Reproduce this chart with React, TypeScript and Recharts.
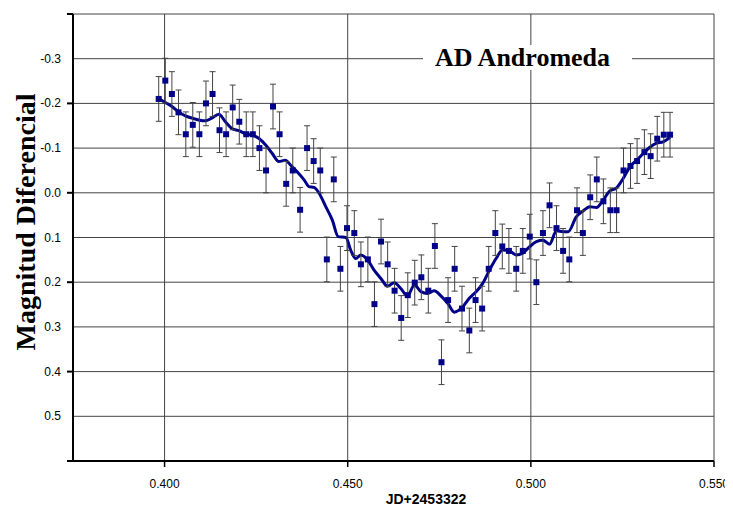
import React from 'react';
import { ComposedChart, Scatter, Line, XAxis, YAxis, ZAxis, CartesianGrid, ErrorBar } from 'recharts';

const jd = [
  0.3984, 0.4002, 0.4020, 0.4038, 0.4058, 0.4077, 0.4095, 0.4113, 0.4131, 0.4150,
  0.4168, 0.4186, 0.4204, 0.4223, 0.4241, 0.4259, 0.4277, 0.4296, 0.4314, 0.4332,
  0.4350, 0.4370, 0.4389, 0.4407, 0.4425, 0.4443, 0.4462, 0.4480, 0.4498, 0.4518,
  0.4536, 0.4555, 0.4573, 0.4591, 0.4609, 0.4628, 0.4646, 0.4664, 0.4683, 0.4701,
  0.4720, 0.4738, 0.4756, 0.4774, 0.4792, 0.4812, 0.4832, 0.4849, 0.4867, 0.4885,
  0.4903, 0.4922, 0.4940, 0.4960, 0.4978, 0.4997, 0.5015, 0.5033, 0.5051, 0.5070,
  0.5088, 0.5105, 0.5126, 0.5142, 0.5162, 0.5180, 0.5198, 0.5217, 0.5234, 0.5253,
  0.5272, 0.5290, 0.5310, 0.5327, 0.5345, 0.5363, 0.5380,
];

const mag = [
  -0.210, -0.251, -0.221, -0.180, -0.131, -0.152, -0.131, -0.200, -0.221, -0.140,
  -0.131, -0.191, -0.159, -0.131, -0.131, -0.100, -0.050, -0.193, -0.131, -0.020,
  -0.050, 0.038, -0.100, -0.071, -0.050, 0.149, -0.030, 0.170, 0.079, 0.090,
  0.160, 0.149, 0.249, 0.109, 0.160, 0.219, 0.280, 0.229, 0.201, 0.189,
  0.219, 0.119, 0.379, 0.240, 0.170, 0.259, 0.308, 0.240, 0.259, 0.170,
  0.090, 0.120, 0.130, 0.170, 0.130, 0.098, 0.200, 0.090, 0.028, 0.079,
  0.130, 0.149, 0.039, 0.090, 0.010, -0.030, 0.019, 0.039, 0.039, -0.050,
  -0.060, -0.071, -0.091, -0.082, -0.121, -0.130, -0.130,
];

const magError = 0.05;

const curveJd = [
  0.3984, 0.4002, 0.4020, 0.4038, 0.4057, 0.4075, 0.4093, 0.4111, 0.4129, 0.4148,
  0.4166, 0.4184, 0.4203, 0.4221, 0.4239, 0.4257, 0.4276, 0.4294, 0.4312, 0.4330,
  0.4344, 0.4362, 0.4381, 0.4394, 0.4408, 0.4422, 0.4440, 0.4458, 0.4474, 0.4495,
  0.4508, 0.4522, 0.4536, 0.4554, 0.4572, 0.4590, 0.4609, 0.4627, 0.4645, 0.4663,
  0.4682, 0.4700, 0.4718, 0.4736, 0.4755, 0.4773, 0.4791, 0.4814, 0.4832, 0.4851,
  0.4869, 0.4887, 0.4905, 0.4923, 0.4942, 0.4960, 0.4978, 0.4996, 0.5015, 0.5033,
  0.5051, 0.5070, 0.5088, 0.5102, 0.5124, 0.5142, 0.5161, 0.5179, 0.5197, 0.5215,
  0.5234, 0.5252, 0.5272, 0.5289, 0.5307, 0.5325, 0.5343, 0.5361, 0.5380,
];

const curveMag = [
  -0.211, -0.202, -0.193, -0.181, -0.172, -0.167, -0.163, -0.161, -0.167, -0.176,
  -0.159, -0.144, -0.139, -0.132, -0.129, -0.122, -0.107, -0.088, -0.070, -0.073,
  -0.062, -0.047, -0.029, -0.014, -0.012, 0.001, 0.031, 0.061, 0.098, 0.100,
  0.128, 0.147, 0.139, 0.150, 0.173, 0.191, 0.209, 0.201, 0.214, 0.231,
  0.206, 0.221, 0.225, 0.219, 0.231, 0.247, 0.267, 0.255, 0.236, 0.221,
  0.202, 0.173, 0.147, 0.128, 0.130, 0.139, 0.135, 0.121, 0.109, 0.106,
  0.115, 0.085, 0.087, 0.087, 0.054, 0.041, 0.031, 0.033, 0.017, -0.004,
  -0.011, -0.032, -0.060, -0.073, -0.088, -0.102, -0.111, -0.114, -0.124,
];

const xTicks = [0.4, 0.45, 0.5, 0.55];
const yTicks = [-0.4, -0.3, -0.2, -0.1, 0, 0.1, 0.2, 0.3, 0.4, 0.5, 0.6];
const yLabelTicks = [-0.3, -0.2, -0.1, 0, 0.1, 0.2, 0.3, 0.4, 0.5];
const yMarkTicks = [-0.4, -0.2, 0, 0.2, 0.4, 0.6];

const points = jd.map((x, i) => ({ x, y: mag[i], err: magError }));
const curve = curveJd.map((x, i) => ({ x, y: curveMag[i] }));

const SANS = '"Liberation Sans", Arial, sans-serif';
const SERIF = '"Liberation Serif", "Times New Roman", serif';
const NAVY = '#000088';

const has = (arr: number[], v: number) => arr.some((t) => Math.abs(t - v) < 1e-9);

const YTick = (props: any) => {
  const { x, y, payload } = props;
  const v = payload.value as number;
  return (
    <g>
      {has(yMarkTicks, v) && (
        <line x1={x + 6} x2={x + 12} y1={y} y2={y} stroke="#000" strokeWidth={2} />
      )}
      {has(yLabelTicks, v) && (
        <text x={x} y={y} dy={4} textAnchor="end" fontSize={12} fontFamily={SANS} fill="#000">
          {v.toFixed(1)}
        </text>
      )}
    </g>
  );
};

const XTick = (props: any) => {
  const { x, y, payload } = props;
  const v = payload.value as number;
  return (
    <text x={x} y={y} dy={9} textAnchor="middle" fontSize={12} fontFamily={SANS} fill="#000">
      {v.toFixed(3)}
    </text>
  );
};

export default function App() {
  return (
    <div style={{ position: 'relative', width: 725, height: 501 }}>
      <style>{`.recharts-wrapper svg, .recharts-surface { overflow: visible; }`}</style>
      <ComposedChart width={725} height={501} margin={{ top: 6, right: 19, bottom: 18, left: 25 }}>
        <CartesianGrid stroke="#444" strokeWidth={1} />
        <XAxis
          type="number"
          dataKey="x"
          domain={[0.375, 0.55]}
          ticks={xTicks}
          interval={0}
          allowDataOverflow
          tick={XTick}
          tickSize={6}
          tickMargin={12}
          axisLine={{ stroke: '#000', strokeWidth: 2 }}
          tickLine={{ stroke: '#000', strokeWidth: 1.5 }}
          height={30}
        />
        <YAxis
          type="number"
          dataKey="y"
          domain={[-0.4, 0.6]}
          reversed
          allowDataOverflow
          ticks={yTicks}
          interval={0}
          tick={YTick}
          tickLine={false}
          tickSize={6}
          tickMargin={6}
          axisLine={{ stroke: '#000', strokeWidth: 2 }}
          width={40}
        />
        <ZAxis range={[36, 36]} />
        <Line
          data={curve}
          dataKey="y"
          type="monotone"
          stroke={NAVY}
          strokeWidth={3}
          dot={false}
          activeDot={false}
          isAnimationActive={false}
        />
        <Scatter data={points} fill={NAVY} shape="square" isAnimationActive={false}>
          <ErrorBar dataKey="err" direction="y" width={3} stroke="#444" strokeWidth={1} isAnimationActive={false} />
        </Scatter>
      </ComposedChart>
      <div
        style={{
          position: 'absolute',
          left: 415,
          top: 37,
          width: 209,
          height: 25,
          background: '#fff',
          paddingLeft: 12,
          boxSizing: 'border-box',
          textAlign: 'left',
          fontFamily: SERIF,
          fontWeight: 'bold',
          fontSize: 26,
          lineHeight: '25px',
          color: '#000',
          whiteSpace: 'nowrap',
        }}
      >
        AD Andromeda
      </div>
      <div
        style={{
          position: 'absolute',
          left: 18 - 160,
          top: 214 - 16,
          width: 320,
          height: 32,
          transform: 'rotate(-90deg)',
          textAlign: 'center',
          fontFamily: SERIF,
          fontWeight: 'bold',
          fontSize: 28,
          lineHeight: '32px',
          color: '#000',
          whiteSpace: 'nowrap',
        }}
      >
        Magnitud Diferencial
      </div>
      <div
        style={{
          position: 'absolute',
          left: 418 - 100,
          top: 484,
          width: 200,
          height: 14,
          textAlign: 'center',
          fontFamily: SANS,
          fontWeight: 'bold',
          fontSize: 14,
          lineHeight: '14px',
          color: '#000',
          whiteSpace: 'nowrap',
        }}
      >
        JD+2453322
      </div>
    </div>
  );
}
